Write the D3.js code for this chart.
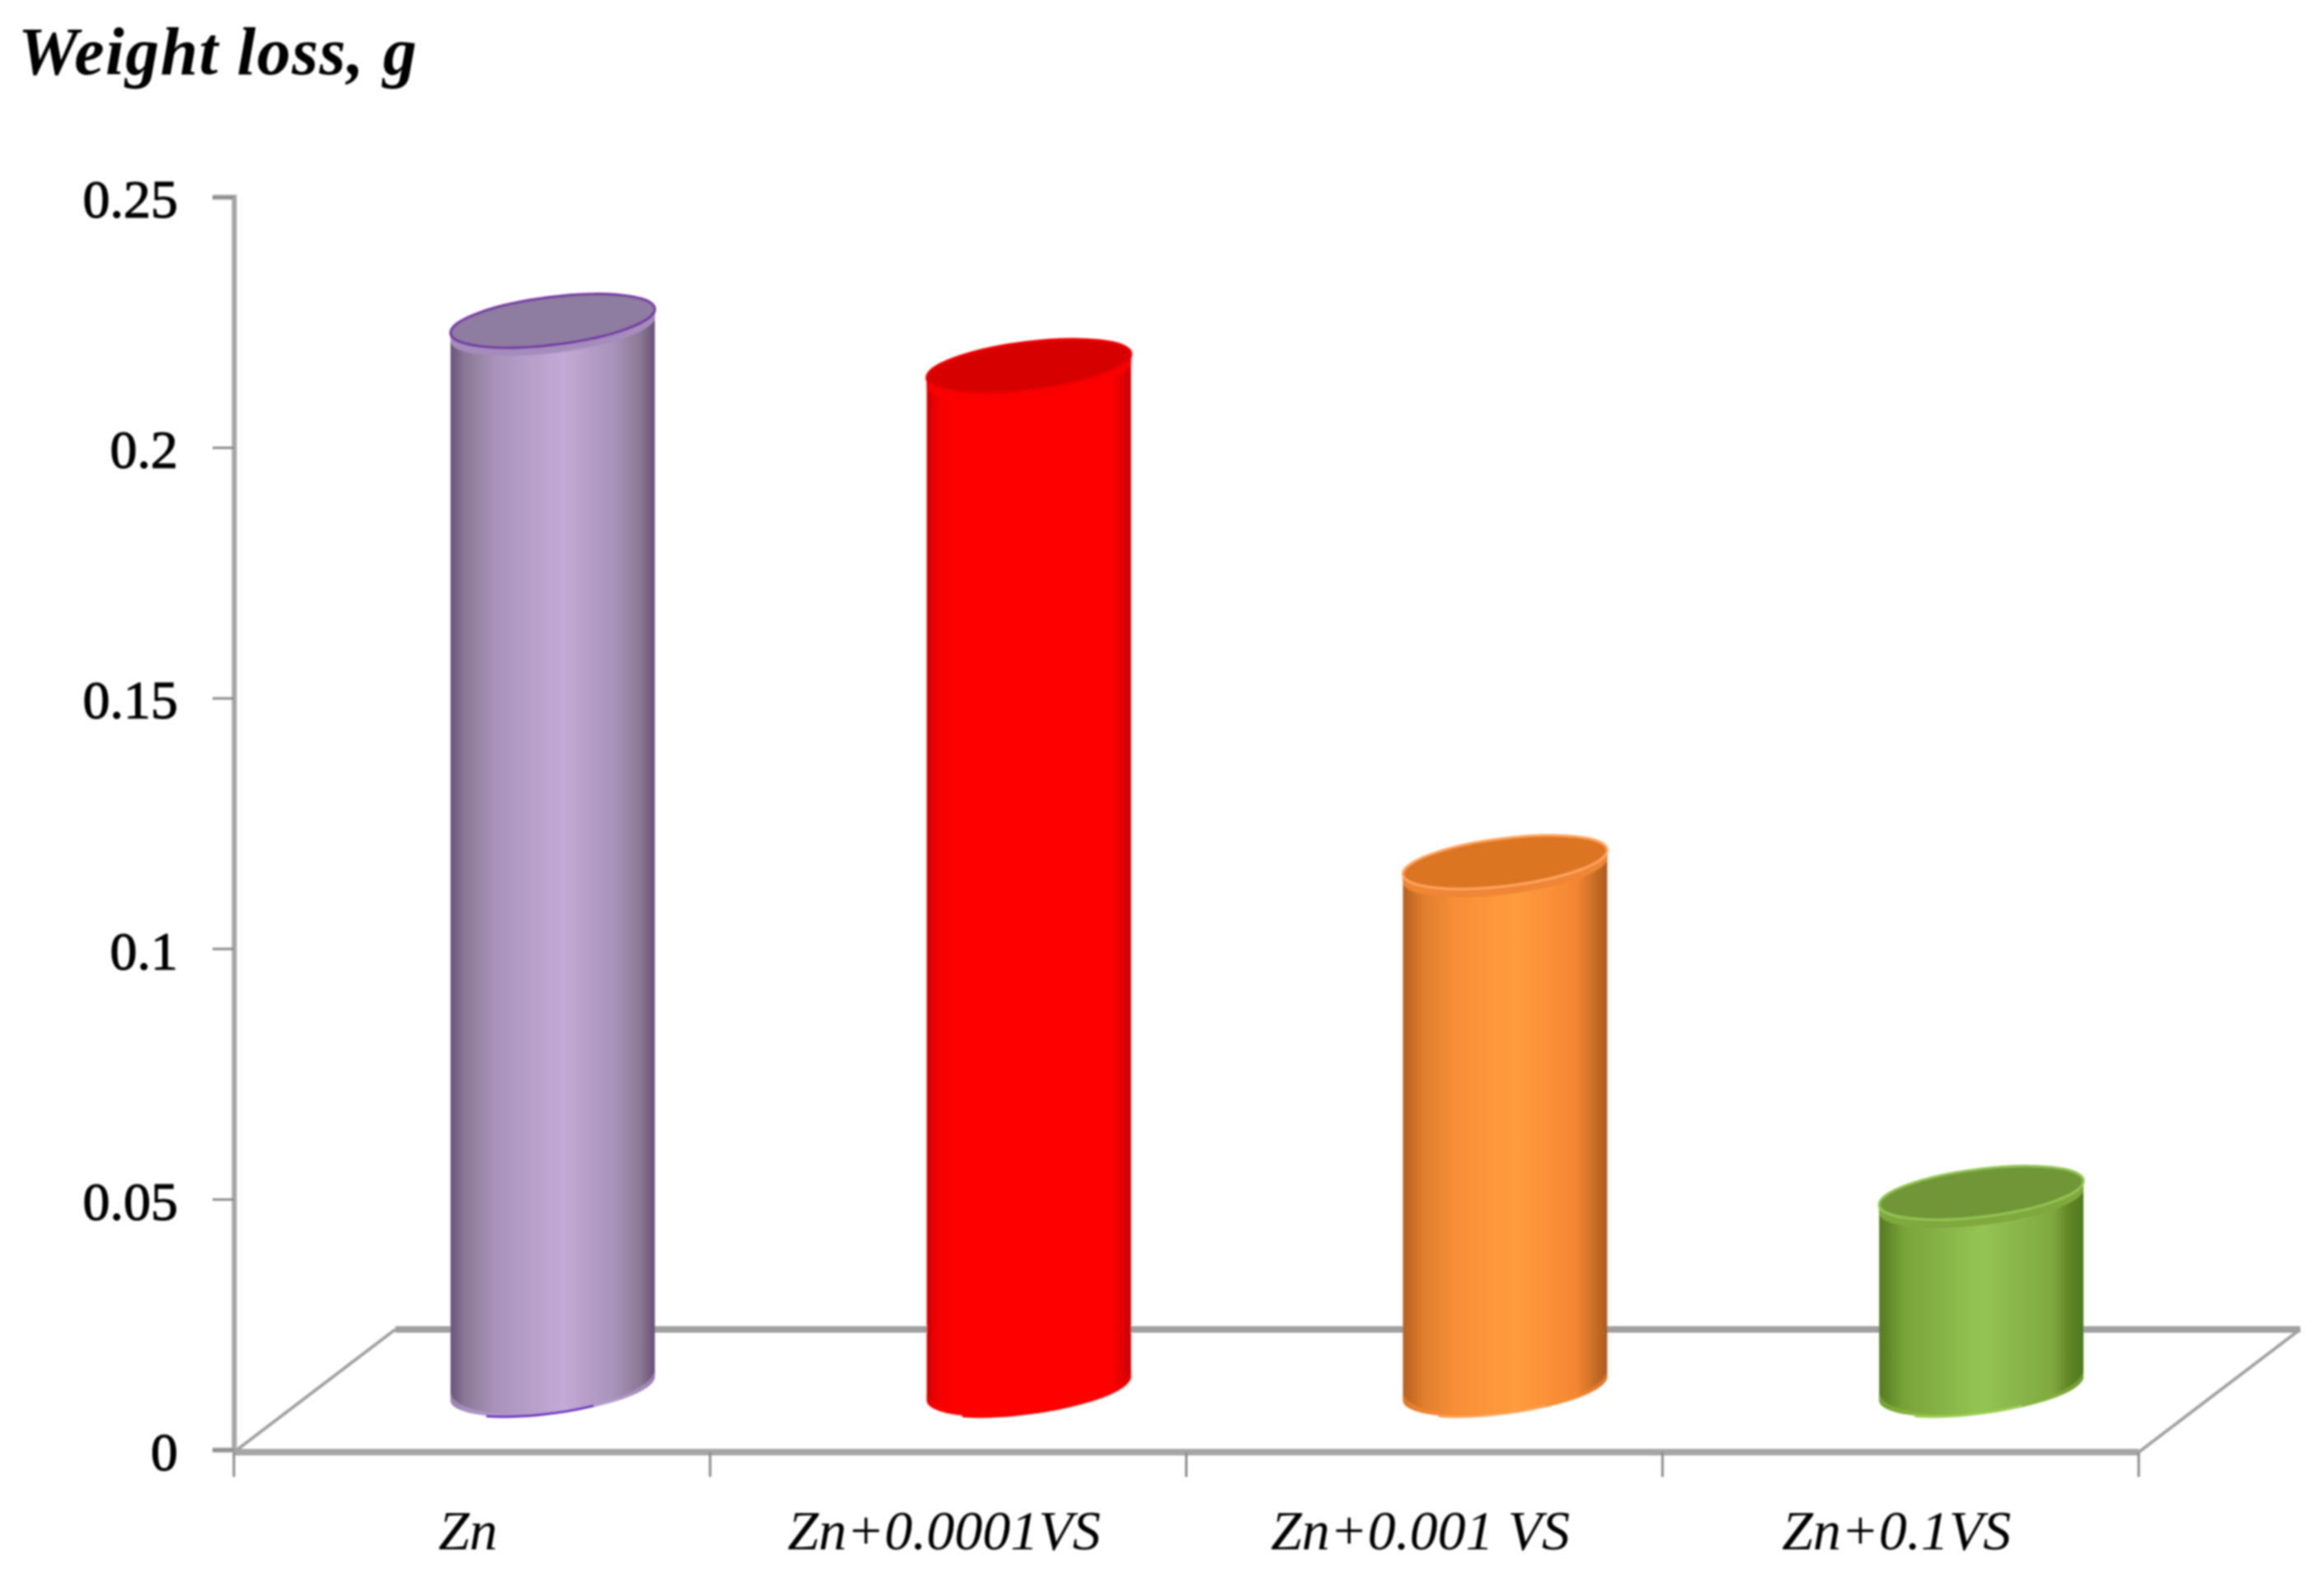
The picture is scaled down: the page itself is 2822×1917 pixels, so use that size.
<!DOCTYPE html>
<html>
<head>
<meta charset="utf-8">
<script src="https://cdn.jsdelivr.net/npm/d3@7"></script>
<style>
    html, body { margin: 0; padding: 0; background: #fff; }
    svg { display: block; }
    text { font-family: "Liberation Serif", serif; fill: #000; }
</style>
</head>
<body>
<div id="chart"></div>
<script>
// values
var categories = ["Zn", "Zn+0.0001VS", "Zn+0.001 VS", "Zn+0.1VS"]
var weightLoss = [0.213, 0.204, 0.105, 0.039]
var yTicks = [0, 0.05, 0.1, 0.15, 0.2, 0.25]
var yTickLabels = ["0", "0.05", "0.1", "0.15", "0.2", "0.25"]
var yTitle = "Weight loss, g"

var chartW = 2822, chartH = 1917
var plotLeft = 284, plotRight = 2597, plotBottom = 1760, plotTop = 239
var depthX = 196, depthY = 149   // floor shear, bars stand in the middle of it
var rx = 125, ry = 29, tilt = -7 // cylinder ellipse

// one look per bar: side gradient, lid, rim
var looks = [
    { side: [[0, "#6a5479"], [0.07, "#8a7896"], [0.22, "#a993bb"], [0.55, "#c3aad6"], [0.8, "#a893b9"], [0.93, "#8a7894"], [1, "#675177"]], lid: "#8f7ca1", rim: "#7030a0", lip: "#a58cbc", foot: "#bda1dc", edge: "#6a2fc0" },
    { side: [[0, "#d40000"], [0.06, "#f50000"], [0.15, "#ff0000"], [0.9, "#ff0000"], [1, "#cc0000"]], lid: "#d60000", rim: "#f00000", lip: "#fa0000", foot: "#ff0000", edge: "#ff0000" },
    { side: [[0, "#b5601f"], [0.1, "#e07e2e"], [0.25, "#f88e37"], [0.55, "#ff9c3e"], [0.85, "#f68632"], [0.95, "#c06a25"], [1, "#ad5c1c"]], lid: "#dc7424", rim: "#ffa45c", lip: "#ee8636", foot: "#fb8a30", edge: "#ffa050" },
    { side: [[0, "#557a22"], [0.12, "#78a338"], [0.5, "#94c554"], [0.85, "#7fa83e"], [0.93, "#5f8526"], [1, "#4f7a1d"]], lid: "#6f9639", rim: "#93c452", lip: "#7fa83e", foot: "#8bbb3c", edge: "#9ad04e" }
]

var svg = d3.select("#chart")
    .append("svg")
    .attr("width", chartW)
    .attr("height", chartH)

var defs = svg.append("defs")
defs.append("filter").attr("id", "soft")
    .append("feGaussianBlur").attr("stdDeviation", 0.9)

looks.forEach(function (look, i) {
    var grad = defs.append("linearGradient").attr("id", "side" + i)
    look.side.forEach(function (s) {
        grad.append("stop").attr("offset", s[0]).attr("stop-color", s[1])
    })
})

var y = d3.scaleLinear().domain([0, 0.25]).range([plotBottom, plotTop])
var x = d3.scaleBand().domain(categories).range([plotLeft, plotRight])

var g = svg.append("g").attr("filter", "url(#soft)")

// title
g.append("text")
    .attr("x", 22)
    .attr("y", 90)
    .attr("font-size", 82)
    .attr("font-weight", "bold")
    .attr("font-style", "italic")
    .attr("textLength", 484)
    .attr("lengthAdjust", "spacing")
    .text(yTitle)

// floor
var floorY = plotBottom + 3
g.append("path")
    .attr("d", "M" + plotLeft + "," + floorY + "L" + (plotLeft + depthX) + "," + (floorY - depthY))
    .attr("stroke", "#a0a0a0").attr("stroke-width", 4).attr("fill", "none")
g.append("path")
    .attr("d", "M" + plotRight + "," + floorY + "L" + (plotRight + depthX) + "," + (floorY - depthY))
    .attr("stroke", "#a0a0a0").attr("stroke-width", 4).attr("fill", "none")
g.append("path")
    .attr("d", "M" + (plotLeft + depthX) + "," + (floorY - depthY) + "L" + (plotRight + depthX) + "," + (floorY - depthY))
    .attr("stroke", "#a0a0a0").attr("stroke-width", 8).attr("fill", "none")
g.append("path")
    .attr("d", "M" + plotLeft + "," + floorY + "L" + plotRight + "," + floorY)
    .attr("stroke", "#a6a6a6").attr("stroke-width", 8).attr("fill", "none")

// y axis
var yAxis = d3.axisLeft(y)
    .tickValues(yTicks)
    .tickFormat(function (d, i) { return yTickLabels[i] })
    .tickSize(26)
    .tickPadding(42)
var yG = g.append("g").attr("transform", "translate(" + plotLeft + ",0)").call(yAxis)
yG.select(".domain").attr("stroke", "#a6a6a6").attr("stroke-width", 6)
yG.selectAll(".tick line").attr("stroke", "#8c8c8c").attr("stroke-width", 3)
yG.selectAll(".tick text")
    .attr("font-family", "Liberation Serif")
    .attr("font-size", 66)
    .attr("fill", "#000")
    .attr("stroke", "#000")
    .attr("stroke-width", 1.2)
    .attr("dy", "0.37em")

// x axis, ticks between the categories
var xTicks = categories.map(function (c) { return x(c) }).concat([plotRight])
g.selectAll(".xtick")
    .data(xTicks)
    .enter()
    .append("line")
    .attr("class", "xtick")
    .attr("x1", function (d) { return d })
    .attr("x2", function (d) { return d })
    .attr("y1", floorY)
    .attr("y2", floorY + 30)
    .attr("stroke", "#8c8c8c")
    .attr("stroke-width", 3)

g.selectAll(".xlabel")
    .data(categories)
    .enter()
    .append("text")
    .attr("class", "xlabel")
    .attr("x", function (d) { return x(d) + x.bandwidth() / 2 - 5 })
    .attr("y", 1881)
    .attr("text-anchor", "middle")
    .attr("font-size", 68)
    .attr("font-style", "italic")
    .text(function (d) { return d })

// cylinders
var rad = tilt * Math.PI / 180
var ex = rx * Math.cos(rad), ey = rx * Math.sin(rad)

function cx(d) { return x(d) + x.bandwidth() / 2 + depthX / 2 }
function baseY() { return y(0) - depthY / 2 }

function arcTo(px, py, rxx, ryy, sweep) {
    return "A" + rxx + "," + ryy + " " + tilt + " 0 " + (sweep || 0) + " " + px + "," + py
}

var bars = g.selectAll(".bar")
    .data(categories)
    .enter()
    .append("g")
    .attr("class", "bar")

// body
bars.append("path")
    .attr("fill", function (d, i) { return "url(#side" + i + ")" })
    .attr("d", function (d, i) {
        var c = cx(d), t = y(weightLoss[i]) - depthY / 2, b = baseY()
        return "M" + (c - ex) + "," + (t - ey)
            + "L" + (c - ex) + "," + (b - ey)
            + arcTo(c + ex, b + ey, rx, ry + 2)
            + "L" + (c + ex) + "," + (t + ey) + "Z"
    })

// lighter band round the foot
bars.append("path")
    .attr("fill", function (d, i) { return looks[i].foot })
    .attr("opacity", 0.55)
    .attr("d", function (d) {
        var c = cx(d), b = baseY()
        return "M" + (c - ex) + "," + (b - ey)
            + arcTo(c + ex, b + ey, rx, ry + 2)
            + "L" + (c + ex) + "," + (b + ey - 10)
            + arcTo(c - ex, b - ey - 10, rx, ry + 10, 1)
            + "Z"
    })

// bottom edge, only the purple one is really visible
bars.append("path")
    .attr("fill", "none")
    .attr("stroke", function (d, i) { return looks[i].edge })
    .attr("stroke-width", 3)
    .attr("d", function (d) {
        var c = cx(d), b = baseY()
        return "M" + (c - ex * 0.65) + "," + (b + ry * 0.82 - ey * 0.65)
            + arcTo(c + ex * 0.4, b + ry * 0.94 + ey * 0.4, rx, ry + 2)
    })

// lip under the lid
bars.append("path")
    .attr("fill", function (d, i) { return looks[i].lip })
    .attr("d", function (d, i) {
        var c = cx(d), t = y(weightLoss[i]) - depthY / 2
        return "M" + (c - ex) + "," + (t - ey)
            + arcTo(c + ex, t + ey, rx, ry)
            + "L" + (c + ex) + "," + (t + ey + 10)
            + arcTo(c - ex, t - ey + 10, rx, ry, 1)
            + "Z"
    })

// lid
bars.append("ellipse")
    .attr("cx", function (d) { return cx(d) })
    .attr("cy", function (d, i) { return y(weightLoss[i]) - depthY / 2 })
    .attr("rx", rx)
    .attr("ry", ry)
    .attr("transform", function (d, i) {
        return "rotate(" + tilt + " " + cx(d) + " " + (y(weightLoss[i]) - depthY / 2) + ")"
    })
    .attr("fill", function (d, i) { return looks[i].lid })
    .attr("stroke", function (d, i) { return looks[i].rim })
    .attr("stroke-width", 3)
</script>
</body>
</html>
